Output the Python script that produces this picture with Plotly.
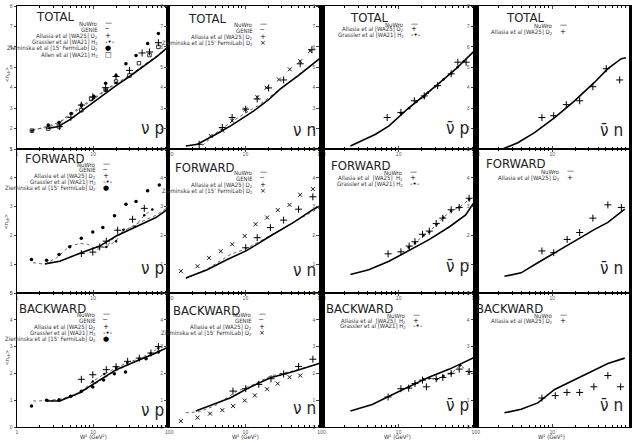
import plotly.graph_objects as go

# ---------------- DATA (W^2 in GeV^2, <n_ch>) ----------------
# TOTAL  nu p
tot_vp_nuwro_W = [2.5, 3.5, 5, 7, 10, 15, 20, 30, 50, 70, 100]
tot_vp_nuwro_N = [2.0, 2.1, 2.45, 2.85, 3.3, 3.75, 4.1, 4.55, 5.15, 5.55, 6.05]
tot_vp_genie_W = [1.6, 2.5, 3.5, 5, 7, 10, 15, 20, 30, 50, 100]
tot_vp_genie_N = [1.95, 2.05, 2.25, 2.65, 3.0, 3.4, 3.85, 4.2, 4.6, 5.2, 6.0]
tot_vp_grassler_W = [1.57, 2.57, 3.57, 5.07, 7.0, 10.2, 14.6, 20]
tot_vp_grassler_N = [1.89, 2.13, 2.30, 2.74, 3.1, 3.48, 3.89, 4.24]
tot_vp_allasia_W = [3.6, 5.1, 7.0, 9.9, 14.6, 20, 30, 44, 55, 72]
tot_vp_allasia_N = [2.1, 2.55, 3.15, 3.55, 4.0, 4.55, 4.85, 5.7, 5.75, 6.2]
tot_vp_ziem_W = [2.57, 3.57, 5.17, 7.0, 10.2, 14.6, 20, 27, 36.6, 52, 72]
tot_vp_ziem_N = [2.17, 2.30, 2.74, 3.15, 3.58, 4.22, 4.6, 5.17, 5.58, 6.16, 6.65]
tot_vp_allen_W = [1.57, 2.57, 3.57, 7.0, 9.4, 14.6, 20, 30, 40, 55, 72]
tot_vp_allen_N = [1.9, 2.0, 2.1, 2.9, 3.45, 3.9, 4.3, 4.6, 5.2, 5.6, 6.0]

# TOTAL  nu n
tot_vn_nuwro_W = [1.65, 2.35, 4, 6.4, 10, 12.9, 20, 28.8, 50, 78.6, 100]
tot_vn_nuwro_N = [1.15, 1.23, 1.7, 2.13, 2.6, 2.87, 3.4, 3.94, 4.6, 5.17, 5.5]
tot_vn_genie_W = [2.35, 3, 4, 6.4, 10, 15, 20, 30, 50, 100]
tot_vn_genie_N = [1.0, 1.3, 1.75, 2.3, 2.75, 3.15, 3.5, 4.0, 4.6, 5.5]
tot_vn_allasia_W = [2.47, 4.98, 6.7, 10.1, 14.3, 20.2, 31.8, 52.5, 74.8]
tot_vn_allasia_N = [1.23, 2.05, 2.54, 2.95, 3.45, 3.99, 4.38, 5.17, 5.86]
tot_vn_ziem_W = [3.5, 4.98, 6.7, 10, 14.3, 19, 27.6, 38.3, 52.5, 71]
tot_vn_ziem_N = [1.64, 1.9, 2.38, 2.93, 3.53, 4.0, 4.4, 4.9, 5.3, 5.8]

# TOTAL  anti-nu p
tot_avp_nuwro_W = [2.37, 5.03, 7.5, 13.7, 30.7, 55.7, 92.3, 100]
tot_avp_nuwro_N = [1.15, 1.72, 2.13, 3.03, 4.1, 4.93, 5.74, 5.85]
tot_avp_allasia_W = [7.1, 10.7, 16, 21.5, 32, 48, 58.6, 75]
tot_avp_allasia_N = [2.54, 2.79, 3.36, 3.6, 4.1, 4.68, 5.25, 5.25]
tot_avp_grassler_W = [10.7, 13.7, 17, 21.5, 24, 32, 38, 48, 58, 70]
tot_avp_grassler_N = [2.75, 3.0, 3.3, 3.55, 3.75, 4.1, 4.4, 4.7, 5.0, 5.3]

# TOTAL  anti-nu n
tot_avn_nuwro_W = [2.25, 3.54, 5.85, 10.7, 19.5, 35.6, 53, 79.5, 91]
tot_avn_nuwro_N = [1.0, 1.31, 1.8, 2.54, 3.36, 4.27, 4.93, 5.42, 5.47]
tot_avn_allasia_W = [7.3, 10.4, 15.2, 22.7, 33.8, 50.5, 75.5]
tot_avn_allasia_N = [2.54, 2.63, 3.17, 3.36, 4.05, 4.93, 4.38]

# FORWARD  nu p
fwd_vp_nuwro_W = [2.32, 3.65, 7.0, 12.2, 20.1, 36.6, 66.8, 100]
fwd_vp_nuwro_N = [1.01, 1.1, 1.4, 1.63, 1.98, 2.31, 2.62, 2.95]
fwd_vp_genie_W = [1.63, 2.32, 3.3, 4.93, 6.66, 8.5, 11, 14.9, 20.1, 36.6, 66.8, 100]
fwd_vp_genie_N = [1.05, 1.0, 1.22, 1.63, 1.72, 1.69, 1.51, 1.61, 2.0, 2.39, 2.7, 3.0]
fwd_vp_allasia_W = [7, 9.9, 12.2, 14.9, 21, 33, 47]
fwd_vp_allasia_N = [1.37, 1.42, 1.6, 1.8, 2.18, 2.56, 2.94]
fwd_vp_grassler_W = [14.9, 20, 25, 35, 47, 60]
fwd_vp_grassler_N = [1.6, 1.8, 2.2, 2.3, 2.7, 2.9]
fwd_vp_ziem_W = [1.55, 2.45, 3.57, 4.93, 7, 9.9, 13.4, 19.1, 27, 36.6, 52, 74]
fwd_vp_ziem_N = [1.16, 1.14, 1.34, 1.61, 1.9, 2.12, 2.27, 2.68, 3.08, 3.18, 3.55, 3.75]

# FORWARD  nu n
fwd_vn_nuwro_W = [1.65, 3.15, 5.78, 10.5, 21.3, 43, 78.6, 100]
fwd_vn_nuwro_N = [0.52, 0.81, 1.16, 1.48, 1.98, 2.45, 2.91, 3.05]
fwd_vn_genie_W = [1.65, 3.15, 6.4, 10.5, 21.3, 43, 100]
fwd_vn_genie_N = [0.5, 0.83, 1.34, 1.55, 2.0, 2.45, 3.0]
fwd_vn_allasia_W = [10.1, 14.3, 21.3, 31.8, 50, 77]
fwd_vn_allasia_N = [1.57, 1.92, 2.27, 2.53, 2.91, 3.34]
fwd_vn_ziem_W = [1.42, 2.35, 3.33, 4.74, 6.7, 9.8, 13.6, 19.3, 26.6, 38, 52.4, 77]
fwd_vn_ziem_N = [0.76, 0.93, 1.22, 1.45, 1.69, 1.98, 2.39, 2.62, 2.88, 3.06, 3.41, 3.61]

# FORWARD  anti-nu p
fwd_avp_nuwro_W = [2.37, 4.1, 7.5, 13.7, 25.1, 45.7, 74, 92, 100]
fwd_avp_nuwro_N = [0.64, 0.81, 1.1, 1.48, 1.86, 2.3, 2.71, 3.09, 3.2]
fwd_avp_allasia_W = [7.3, 10.7, 13.7, 16.3, 20.4, 25, 30.7, 37.4, 48, 61, 82]
fwd_avp_allasia_N = [1.36, 1.43, 1.63, 1.78, 2.04, 2.15, 2.41, 2.6, 2.89, 2.97, 3.29]
fwd_avp_grassler_W = [13.5, 16.3, 21, 25, 31, 38, 48, 61, 82]
fwd_avp_grassler_N = [1.58, 1.74, 2.0, 2.12, 2.38, 2.62, 2.85, 2.97, 3.25]

# FORWARD  anti-nu n
fwd_avn_nuwro_W = [2.37, 3.91, 6.45, 10.7, 19.5, 35.6, 53, 88]
fwd_avn_nuwro_N = [0.58, 0.7, 1.05, 1.4, 1.8, 2.21, 2.45, 2.91]
fwd_avn_allasia_W = [7.3, 10.4, 15.6, 22.7, 33.8, 53, 79.5]
fwd_avn_allasia_N = [1.46, 1.4, 1.86, 2.1, 2.6, 3.06, 2.97]

# BACKWARD  nu p
bwd_vp_nuwro_W = [2.45, 3.65, 6.66, 12.2, 20.1, 36.6, 66.8, 100]
bwd_vp_nuwro_N = [0.97, 0.97, 1.28, 1.75, 2.14, 2.45, 2.76, 3.0]
bwd_vp_genie_W = [1.63, 2.45, 3.65, 6.66, 12.2, 20.1, 36.6, 66.8, 100]
bwd_vp_genie_N = [0.97, 0.98, 1.0, 1.25, 1.72, 2.1, 2.45, 2.78, 3.0]
bwd_vp_grassler_W = [2.45, 3.57, 5.0, 7.0, 9.9, 14, 20, 28, 40, 57, 72]
bwd_vp_grassler_N = [1.0, 1.03, 1.15, 1.33, 1.7, 1.98, 2.2, 2.4, 2.55, 2.75, 2.95]
bwd_vp_allasia_W = [7, 9.9, 14.9, 20, 28.4, 40.4, 57.5, 72]
bwd_vp_allasia_N = [1.78, 1.95, 2.14, 2.25, 2.45, 2.57, 2.76, 3.0]
bwd_vp_ziem_W = [1.55, 2.45, 3.57, 5.08, 7, 9.9, 13.7, 19, 26.6, 49.6, 72]
bwd_vp_ziem_N = [0.78, 1.0, 1.0, 1.15, 1.33, 1.49, 1.75, 1.99, 2.05, 2.55, 2.8]

# BACKWARD  nu n
bwd_vn_nuwro_W = [2.23, 3.68, 6.4, 10.5, 21.3, 43, 78.6, 100]
bwd_vn_nuwro_N = [0.6, 0.84, 1.09, 1.43, 1.84, 2.07, 2.32, 2.4]
bwd_vn_genie_W = [1.65, 2.5, 4, 7.8, 12, 21.3, 43, 100]
bwd_vn_genie_N = [0.53, 0.57, 0.8, 1.34, 1.55, 1.9, 2.1, 2.4]
bwd_vn_allasia_W = [6.87, 10.1, 15, 21.7, 31.8, 50, 77]
bwd_vn_allasia_N = [1.34, 1.43, 1.59, 1.8, 1.98, 2.26, 2.53]
bwd_vn_ziem_W = [1.42, 2.35, 3.43, 4.98, 6.9, 9.8, 13.3, 19.3, 26.6, 38, 52.5]
bwd_vn_ziem_N = [0.22, 0.35, 0.5, 0.63, 0.78, 0.99, 1.18, 1.41, 1.62, 1.86, 1.92]

# BACKWARD  anti-nu p
bwd_avp_nuwro_W = [2.37, 4.55, 7.5, 13.7, 25.1, 45.7, 92, 100]
bwd_avp_nuwro_N = [0.6, 0.84, 1.15, 1.52, 1.87, 2.16, 2.57, 2.62]
bwd_avp_allasia_W = [7.3, 10.7, 13.5, 16.3, 20.4, 22.9, 30.7, 37.4, 48, 61, 82]
bwd_avp_allasia_N = [1.12, 1.43, 1.45, 1.62, 1.75, 1.5, 1.8, 1.85, 2.0, 2.16, 2.07]
bwd_avp_grassler_W = [13.5, 16.3, 21, 25, 31, 38, 48, 63, 82]
bwd_avp_grassler_N = [1.48, 1.62, 1.78, 1.82, 1.78, 1.9, 2.0, 2.3, 2.05]

# BACKWARD  anti-nu n
bwd_avn_nuwro_W = [2.37, 3.91, 6.45, 10.7, 19.5, 35.6, 53, 88]
bwd_avn_nuwro_N = [0.53, 0.66, 0.9, 1.4, 1.76, 2.14, 2.37, 2.57]
bwd_avn_allasia_W = [7.3, 10.9, 15.5, 22.7, 34.8, 53, 77.8]
bwd_avn_allasia_N = [1.08, 1.17, 1.29, 1.29, 1.5, 1.92, 1.5]

row_titles = ["TOTAL", "FORWARD", "BACKWARD"]
col_labels = ["\u03bd p", "\u03bd n", "\u03bd\u0304 p", "\u03bd\u0304 n"]
minor_x_ticks = [2, 3, 4, 5, 6, 7, 8, 9, 20, 30, 40, 50, 60, 70, 80, 90]
y_ranges = [[1, 8], [0, 5], [0, 5]]

LBL_NUWRO = "NuWro"
LBL_GENIE = "GENIE"
LBL_ALLASIA_D2 = "Allasia et al [WA25] D<sub>2</sub>"
LBL_ALLASIA_H2 = "Allasia et al  [WA25]  H<sub>2</sub>"
LBL_GRASSLER = "Grassler et al [WA21] H<sub>2</sub>"
LBL_ZIEM = "Zieminska et al [15' FermiLab] D<sub>2</sub>"
LBL_ALLEN = "Allen et al [WA21] H<sub>2</sub>"

# ---------------- LAYOUT GEOMETRY ----------------
W_PX, H_PX = 632, 443
ML, MR, MT, MB = 17, 0, 6, 16
PW = W_PX - ML - MR
PH = H_PX - MT - MB
col_px = [17, 170, 323, 478, 632]
row_px = [6, 149, 293, 427]


def X(px):
    return (px - ML) / PW


def Y(py):
    return (H_PX - MB - py) / PH


NARROW = "Liberation Sans Narrow, Arial Narrow, DejaVu Sans Condensed, Liberation Sans, sans-serif"

STYLE = {
    "nuwro": dict(mode="lines", line=dict(color="black", width=1.6)),
    "genie": dict(mode="lines", line=dict(color="#666666", width=1, dash="dot")),
    "grassler": dict(mode="lines+markers", line=dict(color="#444444", width=0.8, dash="dot"),
                     marker=dict(symbol="circle", size=2.5, color="black")),
    "allasia": dict(mode="markers", marker=dict(symbol="cross-thin", size=5,
                                                line=dict(color="black", width=1))),
    "ziem_p": dict(mode="markers", marker=dict(symbol="circle", size=3.5, color="black")),
    "ziem_n": dict(mode="markers", marker=dict(symbol="x-thin", size=4,
                                               line=dict(color="black", width=0.9))),
    "allen": dict(mode="markers", marker=dict(symbol="square-open", size=3.5,
                                              color="black", line=dict(width=0.8))),
}

# panels: (row, col, [(style, W, N)], legend entries, legend pos (x_right, y0, dy))
panels = [
    (0, 0, [("genie", tot_vp_genie_W, tot_vp_genie_N), ("grassler", tot_vp_grassler_W, tot_vp_grassler_N),
            ("nuwro", tot_vp_nuwro_W, tot_vp_nuwro_N), ("allasia", tot_vp_allasia_W, tot_vp_allasia_N),
            ("ziem_p", tot_vp_ziem_W, tot_vp_ziem_N), ("allen", tot_vp_allen_W, tot_vp_allen_N)],
     [(LBL_NUWRO, "\u2014"), (LBL_GENIE, "\u2508"), (LBL_ALLASIA_D2, "+"), (LBL_GRASSLER, "-\u2022-"),
      (LBL_ZIEM, "\u25cf"), (LBL_ALLEN, "\u25a1")], (100, 23, 6.3)),
    (0, 1, [("genie", tot_vn_genie_W, tot_vn_genie_N), ("nuwro", tot_vn_nuwro_W, tot_vn_nuwro_N),
            ("allasia", tot_vn_allasia_W, tot_vn_allasia_N), ("ziem_n", tot_vn_ziem_W, tot_vn_ziem_N)],
     [(LBL_NUWRO, "\u2014"), (LBL_GENIE, "\u2508"), (LBL_ALLASIA_D2, "+"), (LBL_ZIEM, "\u00d7")],
     (256, 24, 6.5)),
    (0, 2, [("grassler", tot_avp_grassler_W, tot_avp_grassler_N), ("nuwro", tot_avp_nuwro_W, tot_avp_nuwro_N),
            ("allasia", tot_avp_allasia_W, tot_avp_allasia_N)],
     [(LBL_NUWRO, "\u2014"), (LBL_ALLASIA_D2, "+"), (LBL_GRASSLER, "-\u2022-")], (408, 24, 5.5)),
    (0, 3, [("nuwro", tot_avn_nuwro_W, tot_avn_nuwro_N), ("allasia", tot_avn_allasia_W, tot_avn_allasia_N)],
     [(LBL_NUWRO, "\u2014"), (LBL_ALLASIA_D2, "+")], (558, 25, 7)),
    (1, 0, [("genie", fwd_vp_genie_W, fwd_vp_genie_N), ("grassler", fwd_vp_grassler_W, fwd_vp_grassler_N),
            ("nuwro", fwd_vp_nuwro_W, fwd_vp_nuwro_N), ("allasia", fwd_vp_allasia_W, fwd_vp_allasia_N),
            ("ziem_p", fwd_vp_ziem_W, fwd_vp_ziem_N)],
     [(LBL_NUWRO, "\u2014"), (LBL_GENIE, "\u2508"), (LBL_ALLASIA_D2, "+"), (LBL_GRASSLER, "-\u2022-"),
      (LBL_ZIEM, "\u25cf")], (98, 164, 6)),
    (1, 1, [("genie", fwd_vn_genie_W, fwd_vn_genie_N), ("nuwro", fwd_vn_nuwro_W, fwd_vn_nuwro_N),
            ("allasia", fwd_vn_allasia_W, fwd_vn_allasia_N), ("ziem_n", fwd_vn_ziem_W, fwd_vn_ziem_N)],
     [(LBL_NUWRO, "\u2014"), (LBL_GENIE, "\u2508"), (LBL_ALLASIA_D2, "+"), (LBL_ZIEM, "\u00d7")],
     (256, 172, 6.3)),
    (1, 2, [("grassler", fwd_avp_grassler_W, fwd_avp_grassler_N), ("nuwro", fwd_avp_nuwro_W, fwd_avp_nuwro_N),
            ("allasia", fwd_avp_allasia_W, fwd_avp_allasia_N)],
     [(LBL_NUWRO, "\u2014"), (LBL_ALLASIA_H2, "+"), (LBL_GRASSLER, "-\u2022-")], (407, 172, 6)),
    (1, 3, [("nuwro", fwd_avn_nuwro_W, fwd_avn_nuwro_N), ("allasia", fwd_avn_allasia_W, fwd_avn_allasia_N)],
     [(LBL_NUWRO, "\u2014"), (LBL_ALLASIA_D2, "+")], (565, 171, 7)),
    (2, 0, [("genie", bwd_vp_genie_W, bwd_vp_genie_N), ("grassler", bwd_vp_grassler_W, bwd_vp_grassler_N),
            ("nuwro", bwd_vp_nuwro_W, bwd_vp_nuwro_N), ("allasia", bwd_vp_allasia_W, bwd_vp_allasia_N),
            ("ziem_p", bwd_vp_ziem_W, bwd_vp_ziem_N)],
     [(LBL_NUWRO, "\u2014"), (LBL_GENIE, "\u2508"), (LBL_ALLASIA_D2, "+"), (LBL_GRASSLER, "-\u2022-"),
      (LBL_ZIEM, "\u25cf")], (98, 314, 6.3)),
    (2, 1, [("genie", bwd_vn_genie_W, bwd_vn_genie_N), ("nuwro", bwd_vn_nuwro_W, bwd_vn_nuwro_N),
            ("allasia", bwd_vn_allasia_W, bwd_vn_allasia_N), ("ziem_n", bwd_vn_ziem_W, bwd_vn_ziem_N)],
     [(LBL_NUWRO, "\u2014"), (LBL_GENIE, "\u2508"), (LBL_ALLASIA_D2, "+"), (LBL_ZIEM, "\u00d7")],
     (255, 314, 6.3)),
    (2, 2, [("grassler", bwd_avp_grassler_W, bwd_avp_grassler_N), ("nuwro", bwd_avp_nuwro_W, bwd_avp_nuwro_N),
            ("allasia", bwd_avp_allasia_W, bwd_avp_allasia_N)],
     [(LBL_NUWRO, "\u2014"), (LBL_ALLASIA_H2, "+"), (LBL_GRASSLER, "-\u2022-")], (410, 315, 5.5)),
    (2, 3, [("nuwro", bwd_avn_nuwro_W, bwd_avn_nuwro_N), ("allasia", bwd_avn_allasia_W, bwd_avn_allasia_N)],
     [(LBL_NUWRO, "\u2014"), (LBL_ALLASIA_D2, "+")], (558, 315, 6)),
]

title_pos = [[(55, 17), (208, 19), (371, 18), (527, 18)],
             [(55, 158), (206, 167), (363, 165), (518, 163)],
             [(53, 308), (207, 310), (361, 308), (512, 308)]]
label_pos = [[(167, 128), (319, 130), (473, 128), (628, 130)],
             [(167, 268), (319, 270), (473, 266), (628, 268)],
             [(167, 410), (319, 408), (473, 405), (628, 405)]]

fig = go.Figure()
layout = dict(width=W_PX, height=H_PX, paper_bgcolor="white", plot_bgcolor="white",
              margin=dict(l=ML, r=MR, t=MT, b=MB), showlegend=False,
              font=dict(family="Liberation Sans, Arial, sans-serif", color="black"))
annotations = []

for (r, c, series, legend, lpos) in panels:
    idx = r * 4 + c + 1
    xa = "x" if idx == 1 else f"x{idx}"
    ya = "y" if idx == 1 else f"y{idx}"
    for (st, w, n) in series:
        fig.add_trace(go.Scatter(x=w, y=n, xaxis=xa, yaxis=ya, **STYLE[st]))

    if c == 0:
        xtv, xtt = [1, 10], ["1", "10"]
    else:
        xtv, xtt = [1, 10], ["100", "10"]
    x_dom = [X(col_px[c]), X(col_px[c + 1])]
    y_dom = [max(0.0, Y(row_px[r + 1])), min(1.0, Y(row_px[r]))]
    layout["xaxis" + ("" if idx == 1 else str(idx))] = dict(
        domain=x_dom, anchor=ya, type="log", range=[0, 2],
        tickmode="array", tickvals=xtv, ticktext=xtt, ticks="inside", ticklen=3, tickwidth=0.8,
        minor=dict(tickmode="array", tickvals=minor_x_ticks, ticks="inside", ticklen=2,
                   tickwidth=0.6, tickcolor="black", showgrid=False),
        tickfont=dict(size=5, color="#555555"), ticklabelstandoff=0,
        showgrid=False, zeroline=False,
        showline=True, linecolor="black", linewidth=1, mirror="ticks")
    yr = y_ranges[r]
    ytv = list(range(yr[0], yr[1] + 1))
    layout["yaxis" + ("" if idx == 1 else str(idx))] = dict(
        domain=y_dom, anchor=xa, range=yr, tickvals=ytv, ticktext=[str(v) for v in ytv],
        ticks="outside", ticklen=2.5, tickwidth=0.8, tickfont=dict(size=5, color="#555555"),
        showgrid=False, zeroline=False, showline=True, linecolor="black",
        linewidth=(1 if c == 0 else 2.5), mirror=True)

    # panel title
    tx, ty = title_pos[r][c]
    annotations.append(dict(xref="paper", yref="paper", x=X(tx), y=Y(ty), text=row_titles[r],
                            showarrow=False, xanchor="center", yanchor="middle",
                            font=dict(size=13, family=NARROW, color="#222222")))
    # reaction label
    lx, ly = label_pos[r][c]
    annotations.append(dict(xref="paper", yref="paper", x=X(lx), y=Y(ly), text=col_labels[c],
                            showarrow=False, xanchor="right", yanchor="middle",
                            font=dict(size=17, family=NARROW, color="#222222")))
    # legend
    xr, y0, dy = lpos
    for k, (txt, sym) in enumerate(legend):
        yy = y0 + k * dy
        annotations.append(dict(xref="paper", yref="paper", x=X(xr), y=Y(yy), text=txt,
                                showarrow=False, xanchor="right", yanchor="middle",
                                font=dict(size=6, family=NARROW, color="#333333")))
        annotations.append(dict(xref="paper", yref="paper", x=X(xr + 3), y=Y(yy), text=sym,
                                showarrow=False, xanchor="left", yanchor="middle",
                                font=dict(size=7, family="DejaVu Sans", color="black")))

# y-axis titles and x-axis titles
for (r, cy) in [(0, 75), (1, 222), (2, 358)]:
    annotations.append(dict(xref="paper", yref="paper", x=X(7), y=Y(cy),
                            text="<n<sub>ch</sub>>", textangle=-90, showarrow=False,
                            xanchor="center", yanchor="middle",
                            font=dict(size=6, color="#444444")))
for c in range(4):
    cx = col_px[c] + 76.5
    annotations.append(dict(xref="paper", yref="paper", x=X(cx), y=Y(441),
                            text="W\u00b2 (GeV\u00b2)", showarrow=False,
                            xanchor="center", yanchor="bottom", borderpad=0,
                            font=dict(size=6, family=NARROW, color="#333333")))

layout["annotations"] = annotations
fig.update_layout(**layout)
fig.write_html("out.html", config={"displayModeBar": False},
               post_script="document.body.style.margin='0';document.body.style.overflow='hidden';")
